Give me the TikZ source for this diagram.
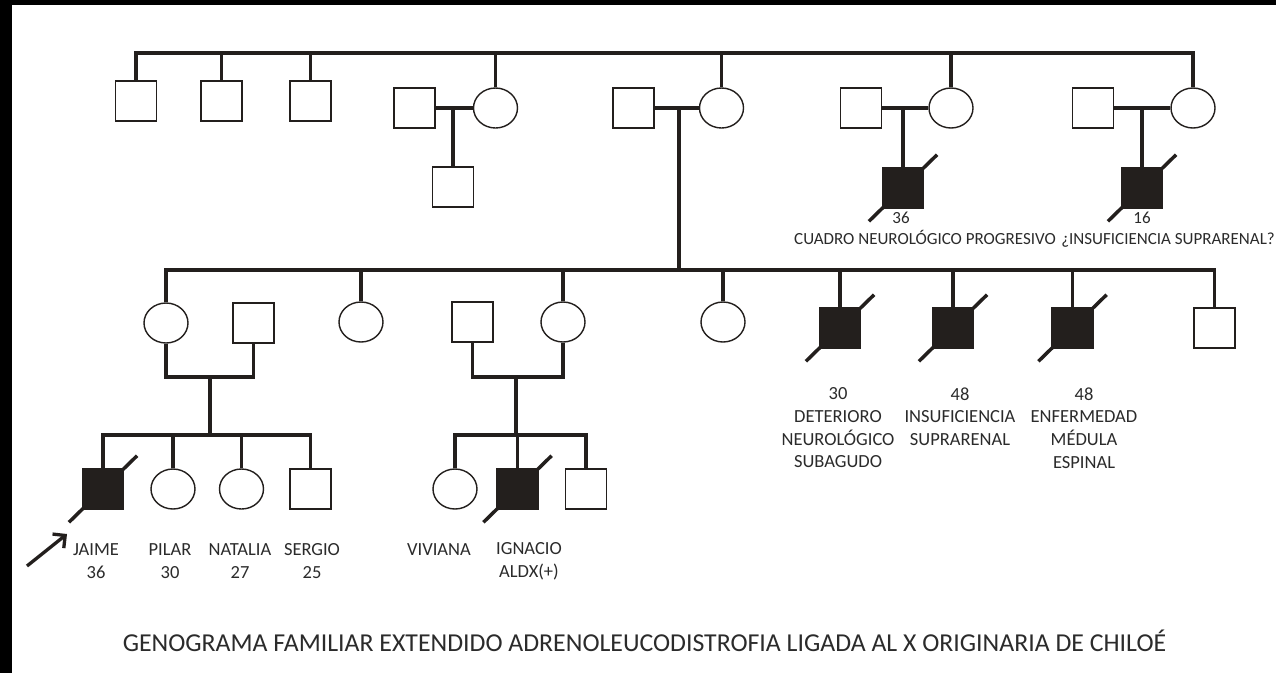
\documentclass[tikz,border=0pt]{standalone}
\usepackage{fontspec}
\setmainfont{Carlito}
\usetikzlibrary{shapes.geometric,arrows.meta}
\definecolor{ink}{HTML}{231F1D}
\definecolor{txt}{HTML}{2B2B2B}

\begin{document}
\begin{tikzpicture}[x=1pt,y=1pt]
\tikzstyle{every node}+=[inner sep=0pt]
\tikzstyle{male}=[draw=ink,line width=1.4pt,minimum width=41pt,minimum height=40pt,fill=white]
\tikzstyle{female}=[ellipse,draw=ink,line width=1.4pt,minimum width=44pt,minimum height=40pt,fill=white]
\tikzstyle{dead}=[male,fill=ink]
\tikzstyle{link}=[ink,line width=3.3pt]
\tikzstyle{slash}=[ink,line width=3.5pt,shorten <=-18pt,shorten >=-18pt]
\tikzstyle{lbl}=[text=txt,align=center,font=\fontsize{18.5}{22.7}\selectfont]
\tikzstyle{toplbl}=[text=txt,anchor=base,font=\fontsize{17}{20}\selectfont]
\fill [white] (0,0) rectangle (1276,-673);
\fill [black] (0,0) rectangle (1276,-5);
\fill [black] (0,0) rectangle (12,-673);
\useasboundingbox (0,0) rectangle (1276,-673);
% second generation
\coordinate (g2) at (0,-53);
\node [male] (s1) at (136,-101) {};
\node [male] (s2) at (221.5,-101) {};
\node [male] (s3) at (310.5,-101) {};
\node [male] (h1) at (414.5,-108) {};
\node [female] (d1) at (495.5,-108) {};
\node [male] (k1) at (453,-187) {};
\node [male] (h2) at (633.5,-108) {};
\node [female] (d2) at (721.5,-108) {};
\node [male] (h3) at (861,-108) {};
\node [female] (d3) at (951,-108) {};
\node [dead] (k3) at (903,-188) {};
\node [male] (h4) at (1093,-108) {};
\node [female] (d4) at (1193,-108) {};
\node [dead] (k4) at (1142,-188) {};
\draw [link] (s1.north) -- (s1.north |- g2) -- (d4.north |- g2) -- (d4.north);
\foreach \n in {s2,s3,d1,d2,d3}
  \draw [link] (\n.north) -- (\n.north |- g2);
\draw [link] (h1) -- (d1);
\draw [link] (h2) -- (d2);
\draw [link] (h3) -- (d3);
\draw [link] (h4) -- (d4);
\draw [link] (k1.north) -- (k1.north |- h1.east);
\draw [link] (k3.north) -- (k3.north |- h3.east);
\draw [link] (k4.north) -- (k4.north |- h4.east);
\node [toplbl] (tk3a) at (901,-223.5) {36};
\node [toplbl] (tk3b) at (925,-244.5) {CUADRO NEUROLÓGICO PROGRESIVO};
\node [toplbl] (tk4a) at (1142,-223.5) {16};
\node [toplbl] (tk4b) at (1168,-244.5) {¿INSUFICIENCIA SUPRARENAL?};
% third generation
\coordinate (g3) at (679,-270);
\draw [link] (g3) -- (g3 |- h2.east);
\node [female] (a1) at (166,-323) {};
\node [male] (a1h) at (253.5,-323) {};
\node [female] (a2) at (361,-322) {};
\node [male] (a3h) at (472.5,-322) {};
\node [female] (a3) at (563,-322) {};
\node [female] (a4) at (723,-322) {};
\node [dead] (a5) at (840,-328) {};
\node [dead] (a6) at (953,-328) {};
\node [dead] (a7) at (1072.5,-328) {};
\node [male] (a8) at (1214.5,-328) {};
\draw [link] (a1.north) -- (a1.north |- g3) -- (a8.north |- g3) -- (a8.north);
\foreach \n in {a2,a3,a4,a5,a6,a7}
  \draw [link] (\n.north) -- (\n.north |- g3);
\node [lbl] (ta5) at (838,-428) {30\\DETERIORO\\NEUROLÓGICO\\SUBAGUDO};
\node [lbl] (ta6) at (960,-416.5) {48\\INSUFICIENCIA\\SUPRARENAL};
\node [lbl] (ta7) at (1084,-428) {48\\ENFERMEDAD\\MÉDULA\\ESPINAL};
% fourth generation
\coordinate (fa) at (210,-377);
\coordinate (ga) at (210,-435);
\coordinate (fb) at (516,-377);
\coordinate (gb) at (516,-435);
\draw [link] (a1.south) -- (a1.south |- fa) -- (a1h.south |- fa) -- (a1h.south);
\draw [link] (a3h.south) -- (a3h.south |- fb) -- (a3.south |- fb) -- (a3.south);
\draw [link] (fa) -- (ga);
\draw [link] (fb) -- (gb);
\node [dead] (jaime) at (103,-489) {};
\node [female] (pilar) at (173,-489) {};
\node [female] (natalia) at (241.5,-489) {};
\node [male] (sergio) at (310.5,-489) {};
\node [female] (viviana) at (455,-489) {};
\node [dead] (ignacio) at (517.5,-489) {};
\node [male] (b3) at (586,-489) {};
\draw [link] (jaime.north) -- (jaime.north |- ga) -- (sergio.north |- ga) -- (sergio.north);
\foreach \n in {pilar,natalia}
  \draw [link] (\n.north) -- (\n.north |- ga);
\draw [link] (viviana.north) -- (viviana.north |- gb) -- (b3.north |- gb) -- (b3.north);
\draw [link] (ignacio.north) -- (ignacio.north |- gb);
\node [lbl] (tjaime) at (96,-561) {JAIME\\36};
\node [lbl] (tpilar) at (170,-561) {PILAR\\30};
\node [lbl] (tnatalia) at (240,-561) {NATALIA\\27};
\node [lbl] (tsergio) at (312,-561) {SERGIO\\25};
\node [lbl] (tviviana) at (439,-550) {VIVIANA};
\node [lbl] (tignacio) at (529,-561) {IGNACIO\\ALDX(+)};
% deceased
\foreach \n in {k3,k4,a5,a6,a7,jaime,ignacio}
  \draw [slash] (\n.south west) -- (\n.north east);
% proband
\coordinate (pa) at (27,-566);
\coordinate (pb) at (67,-534);
\draw [link,-{Straight Barb[length=9pt,width=18pt]}] (pa) -- (pb);
\node [text=txt,anchor=base,font=\fontsize{25.8}{30}\selectfont] (title) at (644.5,-651.3)
  {GENOGRAMA FAMILIAR EXTENDIDO ADRENOLEUCODISTROFIA LIGADA AL X ORIGINARIA DE CHILOÉ};
\end{tikzpicture}
\end{document}
